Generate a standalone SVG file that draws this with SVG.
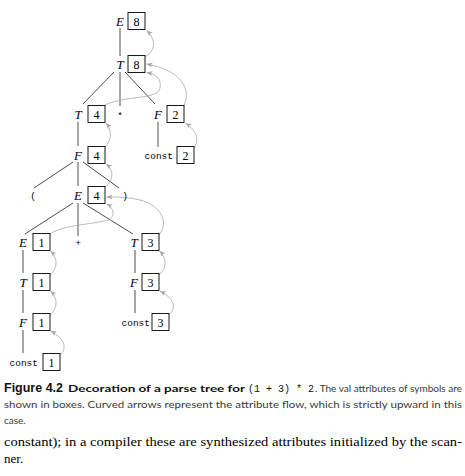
<svg xmlns="http://www.w3.org/2000/svg" width="465" height="476" viewBox="0 0 465 476">
<defs>
<style>
.lab{font-family:'Liberation Serif','Times New Roman',serif;font-style:italic;font-size:13px;fill:#000;text-anchor:middle}
.num{font-family:'Liberation Serif','Times New Roman',serif;font-size:12px;fill:#000;text-anchor:middle}
.mono{font-family:'Liberation Mono','Courier New',monospace;font-size:9.5px;fill:#000}
.box{fill:#fff;stroke:#000;stroke-width:0.9}
.edge{stroke:#000;stroke-width:0.7;fill:none}
.flow{stroke:#a8a8a8;stroke-width:0.8;fill:none;marker-end:url(#ah)}
.cap{font-family:Lato,'Open Sans',sans-serif;font-size:10px;fill:#3a3a3a}
.capb{font-family:Lato,'Open Sans',sans-serif;font-size:10px;font-weight:bold;fill:#111}
.fig{font-family:'Liberation Sans',Arial,sans-serif;font-size:13px;font-weight:bold;fill:#111}
.capm{font-family:'Liberation Mono','Courier New',monospace;font-size:10px;fill:#111}
.body{font-family:'Liberation Serif','Times New Roman',serif;font-size:13px;fill:#000}
</style>
<marker id="ah" markerUnits="userSpaceOnUse" markerWidth="7" markerHeight="6" refX="6" refY="2.5" orient="auto">
<path d="M0,0 L6,2.5 L0,5 L1.5,2.5 z" fill="#a8a8a8"/>
</marker>
</defs>

<g id="edges">
<line class="edge" x1="120" y1="28" x2="120" y2="56"/>
<line class="edge" x1="114" y1="72" x2="83" y2="104"/>
<line class="edge" x1="120" y1="72" x2="120" y2="106"/>
<line class="edge" x1="125" y1="72" x2="155" y2="104"/>
<line class="edge" x1="78" y1="122" x2="78" y2="146"/>
<line class="edge" x1="158" y1="122" x2="158" y2="147"/>
<line class="edge" x1="73" y1="162" x2="34" y2="188"/>
<line class="edge" x1="78" y1="162" x2="78" y2="186"/>
<line class="edge" x1="83" y1="162" x2="119" y2="188"/>
<line class="edge" x1="73" y1="203" x2="25" y2="234"/>
<line class="edge" x1="78" y1="203" x2="78" y2="236"/>
<line class="edge" x1="83" y1="203" x2="133" y2="234"/>
<line class="edge" x1="23" y1="250" x2="23" y2="273"/>
<line class="edge" x1="23" y1="290" x2="23" y2="313"/>
<line class="edge" x1="23" y1="330" x2="23" y2="353"/>
<line class="edge" x1="135" y1="250" x2="135" y2="273"/>
<line class="edge" x1="135" y1="290" x2="135" y2="313"/>
</g>

<g id="flow">
<path class="flow" d="M145,57 C157,50 155,38 146.5,30.5"/>
<path class="flow" d="M104,105.5 C125,95 158,100 160,88 C162,78 155,74 146.5,72.5"/>
<path class="flow" d="M184,105.5 C192,88 180,70 146.5,64"/>
<path class="flow" d="M194,148 C200,140 196,130 185.5,123"/>
<path class="flow" d="M105,147 C112,140 112,130 106,123"/>
<path class="flow" d="M105,187 C114,180 114,170 106,164"/>
<path class="flow" d="M49,235 C60,225 90,225 108,220 C116,216 114,208 106.5,204"/>
<path class="flow" d="M159,235 C170,222 160,205 140,200 C128,197 115,197 106.5,197"/>
<path class="flow" d="M50,275 C58,268 58,258 50.5,251"/>
<path class="flow" d="M50,315 C58,308 58,298 50.5,291"/>
<path class="flow" d="M60,355 C68,348 64,338 50.5,331"/>
<path class="flow" d="M159,275 C167,268 167,258 159.5,251"/>
<path class="flow" d="M169,315 C177,308 174,298 160,291"/>
</g>

<g id="n-E-top"><text class="lab" x="120" y="25.5">E</text><rect class="box" x="128" y="12.5" width="17" height="17"/><text class="num" x="136.5" y="25.5">8</text></g>
<g id="n-T-top"><text class="lab" x="120" y="68.5">T</text><rect class="box" x="128" y="55.5" width="17" height="17"/><text class="num" x="136.5" y="68.5">8</text></g>
<g id="n-T4"><text class="lab" x="78" y="118.5">T</text><rect class="box" x="88" y="105.5" width="17" height="17"/><text class="num" x="96.5" y="118.5">4</text></g>
<g id="n-star"><text class="mono" x="120" y="118.5" text-anchor="middle">*</text></g>
<g id="n-F2"><text class="lab" x="158" y="118.5">F</text><rect class="box" x="167" y="105.5" width="17" height="17"/><text class="num" x="175.5" y="118.5">2</text></g>
<g id="n-F4"><text class="lab" x="78" y="159.5">F</text><rect class="box" x="88" y="146.5" width="17" height="17"/><text class="num" x="96.5" y="159.5">4</text></g>
<g id="n-const2"><text class="mono" x="173" y="158.5" text-anchor="end">const</text><rect class="box" x="177" y="146.5" width="17" height="17"/><text class="num" x="185.5" y="159.5">2</text></g>
<g id="n-lparen"><text class="mono" x="33" y="199" text-anchor="middle">(</text></g>
<g id="n-E4"><text class="lab" x="78" y="199.5">E</text><rect class="box" x="88" y="186.5" width="17" height="17"/><text class="num" x="96.5" y="199.5">4</text></g>
<g id="n-rparen"><text class="mono" x="125" y="199" text-anchor="middle">)</text></g>
<g id="n-E1"><text class="lab" x="23" y="246.5">E</text><rect class="box" x="33" y="233.5" width="17" height="17"/><text class="num" x="41.5" y="246.5">1</text></g>
<g id="n-plus"><text class="mono" x="78" y="246" text-anchor="middle">+</text></g>
<g id="n-T3"><text class="lab" x="134" y="246.5">T</text><rect class="box" x="142" y="233.5" width="17" height="17"/><text class="num" x="150.5" y="246.5">3</text></g>
<g id="n-T1"><text class="lab" x="23" y="286.5">T</text><rect class="box" x="33" y="273.5" width="17" height="17"/><text class="num" x="41.5" y="286.5">1</text></g>
<g id="n-F3"><text class="lab" x="134" y="286.5">F</text><rect class="box" x="142" y="273.5" width="17" height="17"/><text class="num" x="150.5" y="286.5">3</text></g>
<g id="n-F1"><text class="lab" x="23" y="326.5">F</text><rect class="box" x="33" y="313.5" width="17" height="17"/><text class="num" x="41.5" y="326.5">1</text></g>
<g id="n-const3"><text class="mono" x="150" y="325.5" text-anchor="end">const</text><rect class="box" x="152" y="313.5" width="17" height="17"/><text class="num" x="160.5" y="326.5">3</text></g>
<g id="n-const1"><text class="mono" x="38" y="365.5" text-anchor="end">const</text><rect class="box" x="43" y="353.5" width="17" height="17"/><text class="num" x="51.5" y="366.5">1</text></g>

<g id="caption">
<text class="fig" x="4" y="392" textLength="59" lengthAdjust="spacingAndGlyphs">Figure 4.2</text>
<text class="capb" x="68" y="392" textLength="177" lengthAdjust="spacingAndGlyphs">Decoration of a parse tree for</text>
<text class="capm" x="248" y="392" textLength="66" lengthAdjust="spacingAndGlyphs">(1 + 3) * 2</text>
<text class="cap" x="315" y="392" textLength="147" lengthAdjust="spacingAndGlyphs">. The val attributes of symbols are</text>
<text class="cap" x="4" y="408" textLength="458" lengthAdjust="spacingAndGlyphs">shown in boxes. Curved arrows represent the attribute flow, which is strictly upward in this</text>
<text class="cap" x="4" y="424">case.</text>
<text class="body" x="4" y="446" textLength="458" lengthAdjust="spacingAndGlyphs">constant); in a compiler these are synthesized attributes initialized by the scan-</text>
<text class="body" x="4" y="463">ner.</text>
</g>
</svg>
